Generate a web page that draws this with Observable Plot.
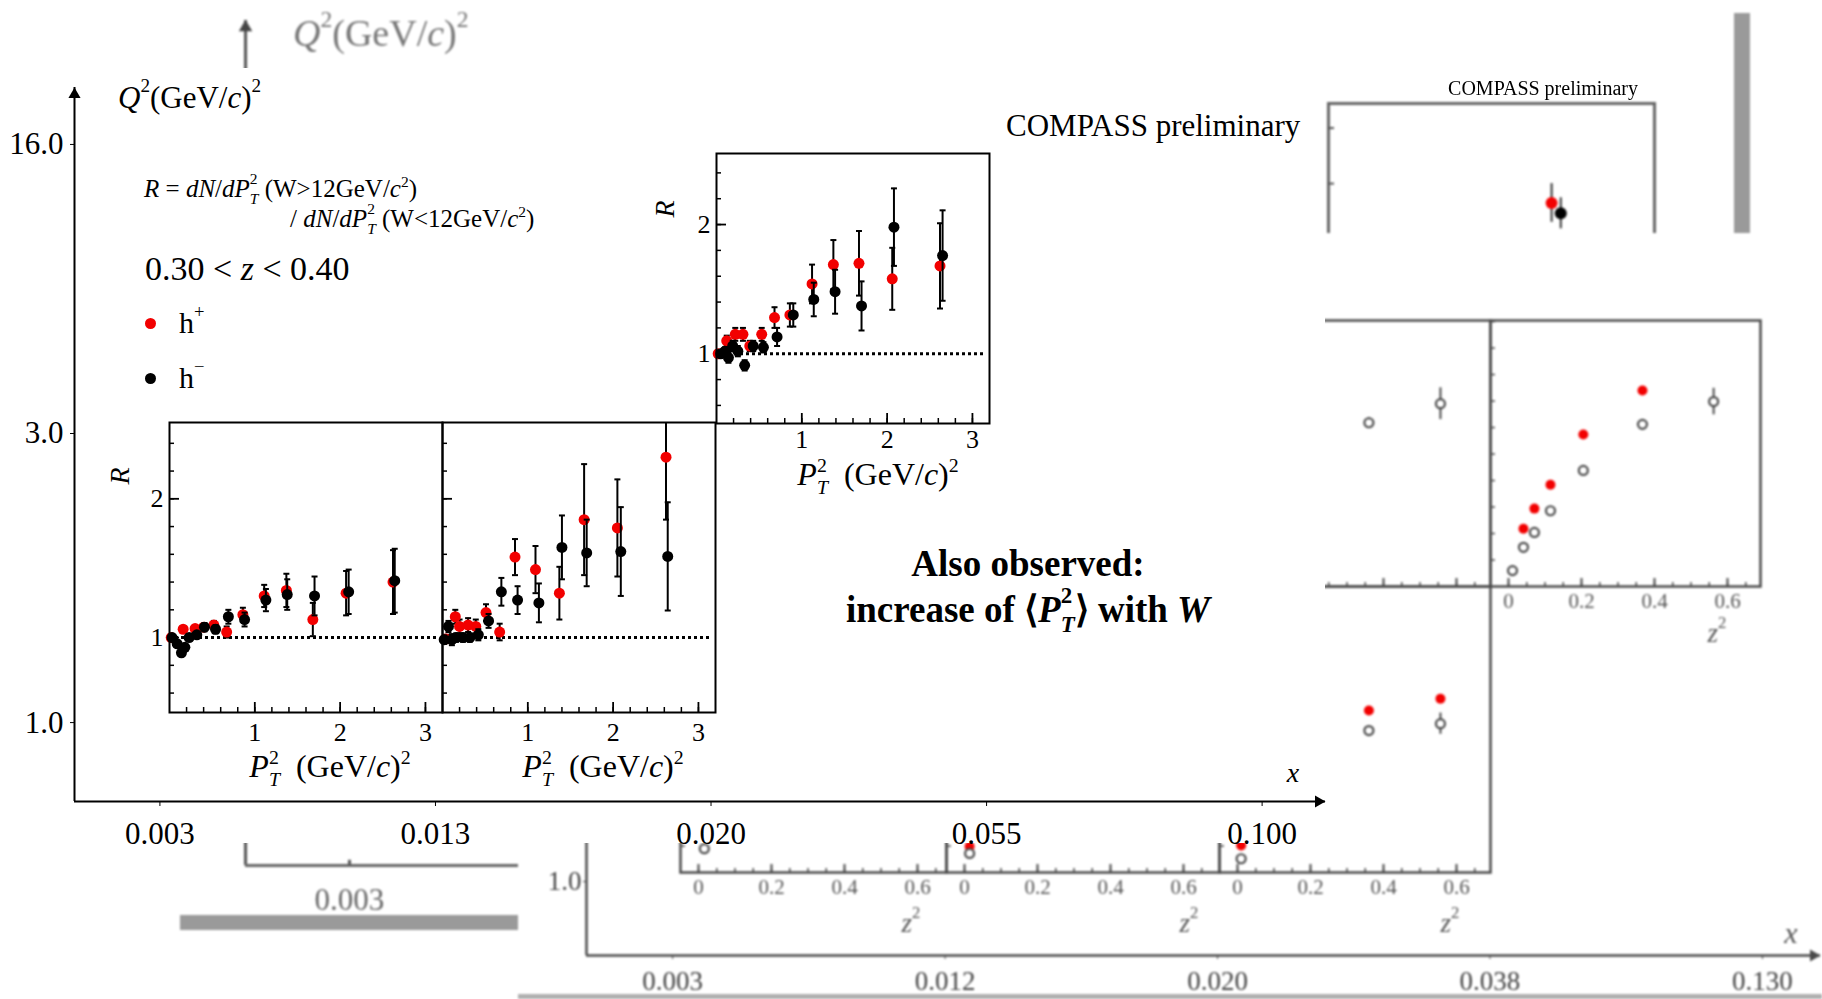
<!DOCTYPE html>
<html><head><meta charset="utf-8">
<script src="https://cdn.jsdelivr.net/npm/d3@7"></script>
<script src="https://cdn.jsdelivr.net/npm/@observablehq/plot@0.6"></script>
<style>
html,body{margin:0;padding:0;background:#fff;}
#stage{position:relative;width:1822px;height:999px;overflow:hidden;font-family:"Liberation Serif","Times New Roman",serif;color:#000;}
.sp{font-size:0.62em;vertical-align:0.8em;line-height:0;}
.sb{font-size:0.62em;vertical-align:-0.45em;line-height:0;}
.lp .sp{vertical-align:0.65em;}
i{font-style:italic;}
</style>
</head><body><div id="stage"></div>
<script>
// ---------------- data ----------------
// main grid (x bins and Q2 bins)
const xBins = ["0.003", "0.013", "0.020", "0.055", "0.100"];
const q2Bins = ["1.0", "3.0", "16.0"];

// inset A: 3 < Q2 < 16, 0.020 < x < 0.055
const posPtA = [0.02, 0.12, 0.22, 0.31, 0.39, 0.53, 0.68, 0.86, 1.12, 1.37, 1.67, 2.06, 2.62];
const posRA  = [1.00, 1.10, 1.15, 1.15, 1.06, 1.15, 1.28, 1.30, 1.54, 1.69, 1.70, 1.58, 1.68];
const posEA  = [0.02, 0.04, 0.05, 0.05, 0.04, 0.05, 0.08, 0.09, 0.15, 0.19, 0.25, 0.24, 0.33];
const negPtA = [0.05, 0.10, 0.14, 0.19, 0.25, 0.33, 0.43, 0.55, 0.71, 0.90, 1.14, 1.39, 1.70, 2.08, 2.65];
const negRA  = [1.00, 1.02, 0.97, 1.06, 1.02, 0.91, 1.06, 1.05, 1.13, 1.30, 1.42, 1.48, 1.37, 1.98, 1.76];
const negEA  = [0.02, 0.03, 0.04, 0.04, 0.04, 0.04, 0.04, 0.04, 0.07, 0.09, 0.13, 0.17, 0.19, 0.30, 0.35];

// inset B: 1 < Q2 < 3, 0.003 < x < 0.013
const posPtB = [0.02, 0.16, 0.30, 0.40, 0.52, 0.67, 0.86, 1.11, 1.37, 1.68, 2.07, 2.62];
const posRB  = [1.00, 1.06, 1.065, 1.075, 1.09, 1.04, 1.165, 1.30, 1.34, 1.13, 1.32, 1.40];
const posEB  = [0.02, 0.02, 0.02, 0.02, 0.03, 0.04, 0.05, 0.08, 0.12, 0.12, 0.16, 0.23];
const negPtB = [0.03, 0.09, 0.14, 0.18, 0.23, 0.32, 0.41, 0.54, 0.69, 0.88, 1.13, 1.38, 1.70, 2.10, 2.64];
const negRB  = [1.00, 0.955, 0.89, 0.93, 1.00, 1.02, 1.075, 1.06, 1.15, 1.13, 1.27, 1.31, 1.30, 1.33, 1.41];
const negEB  = [0.01, 0.02, 0.02, 0.02, 0.02, 0.02, 0.03, 0.03, 0.05, 0.05, 0.08, 0.11, 0.14, 0.16, 0.23];

// inset C: 1 < Q2 < 3, 0.013 < x < 0.020
const posPtC = [0.04, 0.15, 0.20, 0.30, 0.39, 0.51, 0.67, 0.85, 1.09, 1.37, 1.66, 2.05, 2.62];
const posRC  = [0.99, 1.15, 1.08, 1.09, 1.08, 1.18, 1.04, 1.58, 1.49, 1.32, 1.85, 1.79, 2.30];
const posEC  = [0.03, 0.05, 0.05, 0.05, 0.05, 0.06, 0.06, 0.13, 0.17, 0.19, 0.40, 0.35, 0.45];
const negPtC = [0.02, 0.07, 0.11, 0.16, 0.24, 0.32, 0.42, 0.54, 0.69, 0.88, 1.13, 1.40, 1.69, 2.09, 2.64];
const negRC  = [0.985, 1.08, 0.985, 1.00, 1.00, 1.00, 1.02, 1.12, 1.33, 1.27, 1.25, 1.65, 1.61, 1.62, 1.585];
const negEC  = [0.03, 0.04, 0.04, 0.03, 0.03, 0.03, 0.04, 0.05, 0.10, 0.10, 0.14, 0.23, 0.24, 0.32, 0.39];

const ptMajor = [1, 2, 3];
const rMajor = [1, 2];

// faded older figure (lower right)
const oldXBins = ["0.003", "0.012", "0.020", "0.038", "0.130"];
const oldYBins = ["1.0"];
const z2Major = [0, 0.2, 0.4, 0.6];
const urOpenZ = [0.011, 0.041, 0.071, 0.115, 0.205, 0.367, 0.562];
const urOpenP = [0.180, 0.224, 0.252, 0.293, 0.369, 0.456, 0.499];
const urRedZ  = [0.041, 0.071, 0.115, 0.205, 0.367];
const urRedP  = [0.259, 0.297, 0.342, 0.437, 0.520];
const ulOpenZ = [0.36, 0.556];
const ulOpenP = [0.459, 0.495];
const l3OpenZ = [0.01, 0.36, 0.556];
const l3OpenP = [0.176, 0.418, 0.431];
const l3RedZ  = [0.01, 0.36, 0.556];
const l3RedP  = [0.201, 0.456, 0.478];
const l2OpenZ = [0.014];
const l2OpenP = [0.186];
const l2RedZ  = [0.014];
const l2RedP  = [0.199];
const l1OpenZ = [0.016];
const l1OpenP = [0.195];

// faded background figure (top)
const bgXBins = ["0.003"];
const bgPosPt = [2.19], bgPosR = [1.78], bgPosE = [0.15];
const bgNegPt = [2.28], bgNegR = [1.70], bgNegE = [0.12];

// ---------------- helpers ----------------
const serif = '"Liberation Serif","Times New Roman",serif';
const RED = "#f20000";
const stage = document.getElementById("stage");
function box(parent, left, top, w, h, css = "") {
  const d = document.createElement("div");
  d.style.cssText = `position:absolute;left:${left}px;top:${top}px;width:${w}px;height:${h}px;${css}`;
  parent.appendChild(d); return d;
}
function put(parent, node, left, top) {
  node.style.position = "absolute"; node.style.left = left + "px"; node.style.top = top + "px";
  node.style.maxWidth = "none";
  parent.appendChild(node); return node;
}
function txt(parent, html, x, y, size, anchor = "start", css = "", cls = "") {
  const d = document.createElement("div");
  const tx = anchor === "middle" ? "-50%" : anchor === "end" ? "-100%" : "0";
  d.style.cssText = `position:absolute;left:${x}px;top:${y}px;font-size:${size}px;line-height:1;white-space:nowrap;transform:translate(${tx},-50%);${css}`;
  if (cls) d.className = cls;
  d.innerHTML = html; parent.appendChild(d); return d;
}
const rows = (a, b, c) => a.map((v, i) => ({x: v, y: b[i], e: c ? c[i] : 0}));
const capSymbol = {draw(ctx, size) { const w = Math.sqrt(size / Math.PI); ctx.moveTo(-w, 0); ctx.lineTo(w, 0); }};
const baseStyle = (color = "#000") => ({background: "none", overflow: "visible", fontFamily: serif, color, maxWidth: "none"});
const PT2 = '<i>P</i><span class="sp">2</span><span class="sb" style="margin-left:-0.5em"><i>T</i></span>';

// ================= background faded figure =================
const bgLayer = box(stage, 0, 0, 1822, 999, "filter:blur(1.3px);");
const bgX = [-1.269, 5.356], bgY = [-0.4637, 2.993];
const bgAxisX0 = -0.378, bgAxisTop = 2.924, bgAxisEnd = 5.02;
const bgPlot = Plot.plot({
  width: 1822, height: 999, margin: 0,
  x: {domain: bgX, axis: null}, y: {domain: bgY, axis: null},
  style: baseStyle("#6a6a6a"),
  marks: [
    Plot.ruleX([bgAxisX0], {y1: 0, y2: bgAxisTop, stroke: "#555", strokeWidth: 3}),
    Plot.dot([bgAxisTop], {x: bgAxisX0, y: d => d, symbol: "triangle", r: 5, fill: "#444", dy: 7}),
    Plot.ruleY([0], {x1: bgAxisX0, x2: bgAxisEnd, stroke: "#666", strokeWidth: 3}),
    Plot.ruleX([0], {y1: 0, y2: 0.018, stroke: "#555", strokeWidth: 3}),
    Plot.text([0], {x: d => d, y: 0, text: d => bgXBins[d], dy: 35, fontSize: 31, fill: "#666"})
  ]
});
put(bgLayer, bgPlot, 0, 0);
txt(bgLayer, '<i>Q</i><span class="sp">2</span>(GeV/<i>c</i>)<span class="sp">2</span>', 293, 33, 38, "start", "color:#777;");
box(bgLayer, 180, 915, 360, 15, "background:#9a9a9a;");
box(bgLayer, 1734, 13, 16, 240, "background:#9a9a9a;");
// old top-right panel
const bgPanel = Plot.plot({
  width: 326 + 20, height: 270 + 20, marginLeft: 10, marginRight: 10, marginTop: 10, marginBottom: 10,
  x: {domain: [0, 3.2], axis: null}, y: {domain: [0.46, 2.55], axis: null},
  style: baseStyle("#444"),
  marks: [
    Plot.frame({stroke: "#666", strokeWidth: 3}),
    Plot.ruleY([1.93, 2.36], {insetRight: 326 - 6, stroke: "#555", strokeWidth: 2}),
    Plot.ruleX(rows(bgPosPt, bgPosR, bgPosE), {x: "x", y1: d => d.y - d.e, y2: d => d.y + d.e, stroke: "#333", strokeWidth: 2}),
    Plot.ruleX(rows(bgNegPt, bgNegR, bgNegE), {x: "x", y1: d => d.y - d.e, y2: d => d.y + d.e, stroke: "#333", strokeWidth: 2}),
    Plot.dot(rows(bgPosPt, bgPosR), {x: "x", y: "y", r: 6, fill: RED}),
    Plot.dot(rows(bgNegPt, bgNegR), {x: "x", y: "y", r: 6, fill: "#000"})
  ]
});
put(bgLayer, bgPanel, 1328 - 10, 103 - 10);
txt(stage, "COMPASS preliminary", 1543, 88, 20, "middle", "filter:blur(0.4px);");

// ================= lower-right faded figure =================
const LX = 518, LY = 233;
const lower = box(stage, LX, LY, 1304, 766, "background:#fff;filter:blur(0.8px);");
const oldInk = "#4a4a4a";
const oX = [-0.316, 4.213], oY = [-0.264, 2.314];
const oldAxes = Plot.plot({
  width: 1304, height: 766, marginLeft: 68, marginRight: 2, marginTop: 0, marginBottom: 44,
  x: {domain: oX}, y: {domain: oY},
  style: baseStyle("#444"),
  marks: [
    Plot.ruleY([oY[0]], {x1: oX[0], x2: oX[1], stroke: oldInk, strokeWidth: 2.5}),
    Plot.ruleX([oX[0]], {y1: oY[0], y2: oY[1], stroke: oldInk, strokeWidth: 2.5}),
    Plot.dot([oX[1]], {x: d => d, y: oY[0], symbol: "triangle", r: 4.5, fill: oldInk, rotate: 90, dx: -7}),
    Plot.axisX([0, 1, 2, 3, 4], {tickFormat: i => oldXBins[i], tickSize: 4, tickPadding: 11, fontSize: 27, label: null, stroke: oldInk}),
    Plot.axisY([0], {tickFormat: i => oldYBins[i], tickSize: 3, tickPadding: 2, fontSize: 27, label: null, stroke: oldInk})
  ]
});
put(lower, oldAxes, 0, 0);

function oldPanel(left, top, w, h, yDom, open, red, labels) {
  const mL = 10, mR = 10, mT = 10, mB = 40;
  const zDom = [-18 / 365, (w - 18) / 365];
  const marks = [
    Plot.ruleX(d3.range(0, 0.66, 0.05), {insetTop: h - 4, stroke: oldInk, strokeWidth: 1.5}),
    Plot.ruleX(z2Major, {insetTop: h - 8, stroke: oldInk, strokeWidth: 2}),
    Plot.ruleY(d3.range(0.2, yDom[1], 0.05), {insetRight: w - 5, stroke: oldInk, strokeWidth: 1.5}),
    Plot.frame({stroke: oldInk, strokeWidth: 2.5}),
    Plot.dot(red, {x: "x", y: "y", r: 5, fill: RED}),
    Plot.ruleX(open.filter(d => d.e > 0), {x: "x", y1: d => d.y - d.e, y2: d => d.y + d.e, stroke: oldInk, strokeWidth: 2}),
    Plot.dot(open, {x: "x", y: "y", r: 4.5, stroke: oldInk, strokeWidth: 2.2, fill: "#fff"})
  ];
  if (labels) marks.push(Plot.axisX(z2Major, {tickSize: 0, tickPadding: 7, fontSize: 21, label: null, tickFormat: d => d === 0 ? "0" : d.toFixed(1)}));
  const p = Plot.plot({
    width: w + mL + mR, height: h + mT + mB, marginLeft: mL, marginRight: mR, marginTop: mT, marginBottom: mB,
    x: labels ? {domain: zDom} : {domain: zDom, axis: null}, y: {domain: yDom, axis: null},
    style: baseStyle("#555"),
    marks
  });
  put(lower, p, left - LX - mL, top - LY - mT);
}
const upY = [0.15, 0.652], loY = [0.15, 0.69];
oldPanel(1490, 320, 270, 266, upY, rows(urOpenZ, urOpenP, [0, 0, 0, 0, 0, 0, 0.025]), rows(urRedZ, urRedP), true);
oldPanel(1219, 320, 271, 266, upY, rows(ulOpenZ, ulOpenP, [0.01, 0.03]), [], false);
oldPanel(680, 586, 266, 286, loY, rows(l1OpenZ, l1OpenP), [], true);
oldPanel(946, 586, 273, 286, loY, rows(l2OpenZ, l2OpenP), rows(l2RedZ, l2RedP), true);
oldPanel(1219, 586, 271, 286, loY, rows(l3OpenZ, l3OpenP, [0, 0, 0.02]), rows(l3RedZ, l3RedP), true);
const zLab = '<i>z</i><span class="sp">2</span>';
txt(lower, zLab, 1717 - LX, 633 - LY, 27, "middle", "color:#555;");
txt(lower, zLab, 911 - LX, 923 - LY, 27, "middle", "color:#555;");
txt(lower, zLab, 1189 - LX, 923 - LY, 27, "middle", "color:#555;");
txt(lower, zLab, 1450 - LX, 923 - LY, 27, "middle", "color:#555;");
txt(lower, "<i>x</i>", 1791 - LX, 933 - LY, 30, "middle", "color:#555;");
box(stage, LX, 994, 1304, 5, "background:#b0b0b0;filter:blur(1px);");

// ================= main chart =================
const MY = 68;
const mainBox = box(stage, 0, MY, 1325, 775, "background:#fff;");
const mX = [-0.31, 4.23], mY = [-0.273, 2.197];
const mainPlot = Plot.plot({
  width: 1332, height: 775, marginLeft: 74, marginRight: 7, marginTop: 19, marginBottom: 42,
  x: {domain: mX}, y: {domain: mY},
  style: baseStyle("#000"),
  marks: [
    Plot.ruleY([mY[0]], {x1: mX[0], x2: mX[1], strokeWidth: 2}),
    Plot.ruleX([mX[0]], {y1: mY[0], y2: mY[1], strokeWidth: 2}),
    Plot.dot([mX[1]], {x: d => d, y: mY[0], symbol: "triangle", r: 4.5, fill: "#000", rotate: 90, dx: -7}),
    Plot.dot([mY[1]], {x: mX[0], y: d => d, symbol: "triangle", r: 4.5, fill: "#000", dy: 7}),
    Plot.axisX([0, 1, 2, 3, 4], {tickFormat: i => xBins[i], tickSize: 5, tickPadding: 15, fontSize: 31, label: null}),
    Plot.axisY([0, 1, 2], {tickFormat: i => q2Bins[i], tickSize: 4, tickPadding: 7, fontSize: 31, label: null})
  ]
});
put(mainBox, mainPlot, 0, 0);

function inset(frameLeft, frameTop, w, h, pos, neg, yLabels, labPad) {
  const mL = 50, mR = 10, mT = 10, mB = 50;
  const dotEnd = 3.15;
  const marks = [
    Plot.ruleX(d3.range(0.2, 3.2, 0.2), {insetTop: h - 5, strokeWidth: 1.5}),
    Plot.ruleX(ptMajor, {insetTop: h - 10, strokeWidth: 1.8}),
    Plot.ruleY(d3.range(0.6, 2.55, 0.2), {insetRight: w - 5, strokeWidth: 1.5}),
    Plot.ruleY(rMajor, {insetRight: w - 10, strokeWidth: 1.8}),
    Plot.axisX(ptMajor, {tickSize: 0, tickPadding: labPad, fontSize: 26, label: null, tickFormat: d => String(d)}),
    Plot.ruleY([1], {x1: 0, x2: dotEnd, strokeDasharray: "3,3", strokeWidth: 3}),
    Plot.ruleX(pos, {x: "x", y1: d => d.y - d.e, y2: d => d.y + d.e, strokeWidth: 2, clip: true}),
    Plot.dot(pos, {x: "x", y: d => d.y + d.e, symbol: capSymbol, r: 3, stroke: "#000", strokeWidth: 2, clip: true}),
    Plot.dot(pos, {x: "x", y: d => d.y - d.e, symbol: capSymbol, r: 3, stroke: "#000", strokeWidth: 2, clip: true}),
    Plot.dot(pos, {x: "x", y: "y", r: 5.5, fill: RED}),
    Plot.ruleX(neg, {x: "x", y1: d => d.y - d.e, y2: d => d.y + d.e, strokeWidth: 2, clip: true}),
    Plot.dot(neg, {x: "x", y: d => d.y + d.e, symbol: capSymbol, r: 3, stroke: "#000", strokeWidth: 2, clip: true}),
    Plot.dot(neg, {x: "x", y: d => d.y - d.e, symbol: capSymbol, r: 3, stroke: "#000", strokeWidth: 2, clip: true}),
    Plot.dot(neg, {x: "x", y: "y", r: 5.5, fill: "#000"}),
    Plot.frame({strokeWidth: 2})
  ];
  if (yLabels) marks.push(Plot.axisY(rMajor, {tickSize: 0, tickPadding: 6, fontSize: 26, label: null, tickFormat: d => String(d)}));
  const p = Plot.plot({
    width: w + mL + mR, height: h + mT + mB, marginLeft: mL, marginRight: mR, marginTop: mT, marginBottom: mB,
    x: {domain: [0, 3.2]}, y: yLabels ? {domain: [0.46, 2.55]} : {domain: [0.46, 2.55], axis: null},
    style: baseStyle("#000"),
    marks
  });
  put(mainBox, p, frameLeft - mL, frameTop - MY - mT);
}
inset(169, 422, 273, 290, rows(posPtB, posRB, posEB), rows(negPtB, negRB, negEB), true, 10);
inset(442, 422, 273, 290, rows(posPtC, posRC, posEC), rows(negPtC, negRC, negEC), false, 10);
inset(716, 153, 273, 270, rows(posPtA, posRA, posEA), rows(negPtA, negRA, negEA), true, 6);

const ptLab = PT2 + '&nbsp;&nbsp;(GeV/<i>c</i>)<span class="sp">2</span>';
txt(mainBox, ptLab, 330, 766 - MY, 32, "middle", "", "lp");
txt(mainBox, ptLab, 603, 766 - MY, 32, "middle", "", "lp");
txt(mainBox, ptLab, 878, 474 - MY, 32, "middle", "", "lp");
txt(mainBox, "<i>R</i>", 120, 476 - MY, 28, "middle", "transform:translate(-50%,-50%) rotate(-90deg);");
txt(mainBox, "<i>R</i>", 665, 209 - MY, 28, "middle", "transform:translate(-50%,-50%) rotate(-90deg);");

// titles / annotations
txt(mainBox, '<i>Q</i><span class="sp">2</span>(GeV/<i>c</i>)<span class="sp">2</span>', 118, 97 - MY, 31);
txt(mainBox, '<i>R</i> = <i>dN</i>/<i>dP</i><span class="sp">2</span><span class="sb" style="margin-left:-0.5em"><i>T</i></span> (W&gt;12GeV/<i>c</i><span class="sp" style="vertical-align:0.6em">2</span>)', 144, 188 - MY, 25);
txt(mainBox, '/ <i>dN</i>/<i>dP</i><span class="sp">2</span><span class="sb" style="margin-left:-0.5em"><i>T</i></span> (W&lt;12GeV/<i>c</i><span class="sp" style="vertical-align:0.6em">2</span>)', 290, 218 - MY, 25);
txt(mainBox, '0.30 &lt; <i>z</i> &lt; 0.40', 145, 269 - MY, 34);
box(mainBox, 150 - 5.5, 323 - MY - 5.5, 11, 11, `background:${RED};border-radius:50%;`);
box(mainBox, 150 - 5.5, 378 - MY - 5.5, 11, 11, "background:#000;border-radius:50%;");
txt(mainBox, 'h<span class="sp">+</span>', 179, 323 - MY, 30);
txt(mainBox, 'h<span class="sp">&minus;</span>', 179, 378 - MY, 30);
txt(mainBox, "COMPASS preliminary", 1006, 125 - MY, 31);
txt(mainBox, "<i>x</i>", 1293, 773 - MY, 28, "middle");
txt(mainBox, "Also observed:", 1028, 563 - MY, 37, "middle", "font-weight:bold;");
txt(mainBox, 'increase of \u27E8<i>P</i><span class="sp">2</span><span class="sb" style="margin-left:-0.5em"><i>T</i></span>\u27E9 with <i>W</i>', 1028, 609 - MY, 37, "middle", "font-weight:bold;");
</script>
</body></html>
